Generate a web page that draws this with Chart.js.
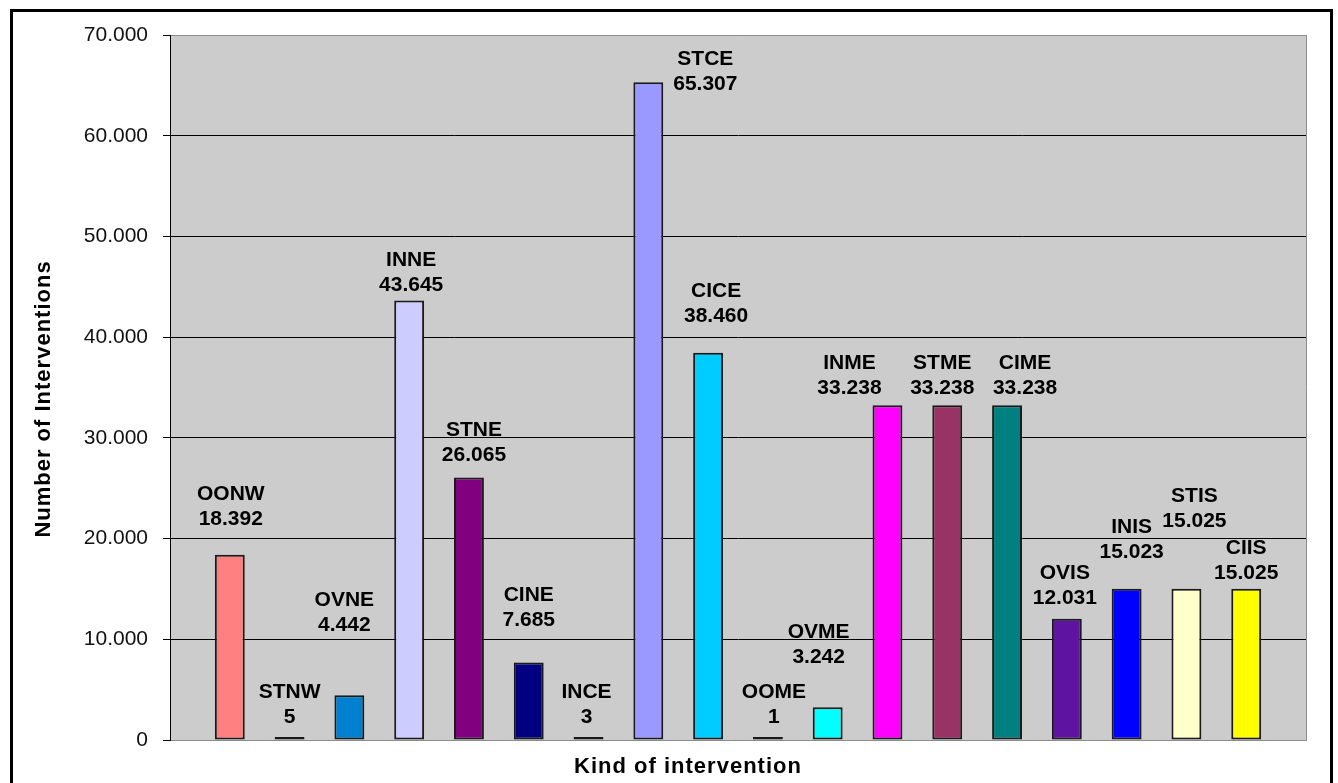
<!DOCTYPE html>
<html>
<head>
<meta charset="utf-8">
<script src="https://cdn.jsdelivr.net/npm/chart.js@4"></script>
<style>
  html, body { margin: 0; padding: 0; background: #ffffff; }
  #wrap { width: 1338px; height: 783px; }
</style>
</head>
<body>
<div id="wrap"><canvas id="chart" width="1338" height="783"></canvas></div>
<script>
// Intervention kinds and counts
const categories = ['OONW', 'STNW', 'OVNE', 'INNE', 'STNE', 'CINE', 'INCE', 'STCE', 'CICE',
                    'OOME', 'OVME', 'INME', 'STME', 'CIME', 'OVIS', 'INIS', 'STIS', 'CIIS'];
const interventions = [18392, 5, 4442, 43645, 26065, 7685, 3, 65307, 38460,
                       1, 3242, 33238, 33238, 33238, 12031, 15023, 15025, 15025];
const yTicks = [0, 10000, 20000, 30000, 40000, 50000, 60000, 70000];

// Fill colour of each bar
const barColors = ['#FF8080', '#000000', '#0080D0', '#CCCCFF', '#800080', '#000080', '#000000',
                   '#9999FF', '#00CCFF', '#000000', '#00FFFF', '#FF00FF', '#993366', '#008080',
                   '#5E14A0', '#0000FF', '#FFFFCC', '#FFFF00'];

// Nudges (px) for each value label: [dx from bar centre, dy of value line from bar top]
const labelNudges = [[1, -36], [0, -23], [-5, -70], [2, -15], [5, -22], [0, -42], [-2, -23],
                     [57, 2], [8, -36], [6, -23], [-9, -50], [-38, -17], [-5, -17], [18, -17],
                     [-2, -21], [5, -36], [8, -67], [0, -15]];

const fmt = v => String(Math.round(v)).replace(/\B(?=(\d{3})+(?!\d))/g, '.');

const FONT = "'Liberation Sans', Arial, sans-serif";

const framePlugin = {
  id: 'frame',
  beforeDraw(chart) {
    const { ctx, chartArea: a } = chart;
    ctx.save();
    ctx.fillStyle = '#CCCCCC';
    ctx.fillRect(a.left, a.top, a.right - a.left, a.bottom - a.top);
    ctx.restore();
  },
  beforeDatasetsDraw(chart) {
    const { ctx, chartArea: a } = chart;
    ctx.save();
    ctx.strokeStyle = '#8C8C8C';
    ctx.lineWidth = 1;
    ctx.beginPath();
    ctx.moveTo(Math.round(a.right) + 0.5, a.top);
    ctx.lineTo(Math.round(a.right) + 0.5, a.bottom);
    ctx.stroke();
    ctx.restore();
  },
  afterDraw(chart) {
    const { ctx } = chart;
    ctx.save();
    // axis titles
    ctx.fillStyle = '#000000';
    ctx.font = `bold 22px ${FONT}`;
    ctx.letterSpacing = '1px';
    ctx.textAlign = 'center';
    ctx.textBaseline = 'middle';
    ctx.fillText('Kind of intervention', 688, 767);
    ctx.translate(44, 399);
    ctx.rotate(-Math.PI / 2);
    ctx.fillText('Number of Interventions', 0, 0);
    ctx.restore();
    // outer frame
    ctx.save();
    ctx.strokeStyle = '#000000';
    ctx.lineWidth = 3;
    ctx.strokeRect(11.5, 10.5, 1320, 900);
    ctx.restore();
  }
};

const labelPlugin = {
  id: 'barLabels',
  afterDatasetsDraw(chart) {
    const { ctx } = chart;
    const meta = chart.getDatasetMeta(0);
    const y = chart.scales.y;
    ctx.save();
    ctx.fillStyle = '#000000';
    ctx.font = `bold 21px ${FONT}`;
    ctx.textAlign = 'center';
    ctx.textBaseline = 'middle';
    meta.data.forEach((bar, i) => {
      const [dx, dy] = labelNudges[i];
      const top = y.getPixelForValue(interventions[i]);
      const cx = bar.x + dx;
      const vy = top + dy;
      ctx.fillText(fmt(interventions[i]), cx, vy);
      ctx.fillText(categories[i], cx, vy - 25);
    });
    ctx.restore();
  }
};

new Chart(document.getElementById('chart'), {
  type: 'bar',
  data: {
    datasets: [{
      data: categories.map((c, i) => ({ x: i + 1, y: interventions[i] })),
      backgroundColor: barColors,
      borderColor: '#1A1A1A',
      borderWidth: 2,
      borderSkipped: false,
      minBarLength: 3,
      categoryPercentage: 1,
      barPercentage: 0.5
    }]
  },
  options: {
    responsive: false,
    animation: false,
    layout: { padding: { left: 0, top: 35, right: 32, bottom: 43 } },
    plugins: {
      legend: { display: false },
      tooltip: { enabled: false },
      title: { display: false }
    },
    scales: {
      x: {
        type: 'linear',
        offset: false,
        min: 0,
        max: categories.length + 1,
        ticks: { display: false },
        grid: { display: false, drawTicks: false, offset: false },
        border: { display: true, color: '#8C8C8C', width: 1 }
      },
      y: {
        min: 0,
        max: yTicks[yTicks.length - 1],
        afterBuildTicks(scale) { scale.ticks = yTicks.map(v => ({ value: v })); },
        afterFit(scale) { scale.width = 170; },
        ticks: {
          padding: 15,
          color: '#111111',
          font: { family: FONT, size: 21 },
          callback: v => fmt(v)
        },
        grid: {
          color: c => (c.tick && (c.tick.value === 0 || c.tick.value === 70000)) ? '#8C8C8C' : '#000000',
          tickColor: '#000000',
          tickLength: 7,
          lineWidth: 1
        },
        border: { display: true, color: '#000000', width: 1 }
      }
    }
  },
  plugins: [framePlugin, labelPlugin]
});
</script>
</body>
</html>
